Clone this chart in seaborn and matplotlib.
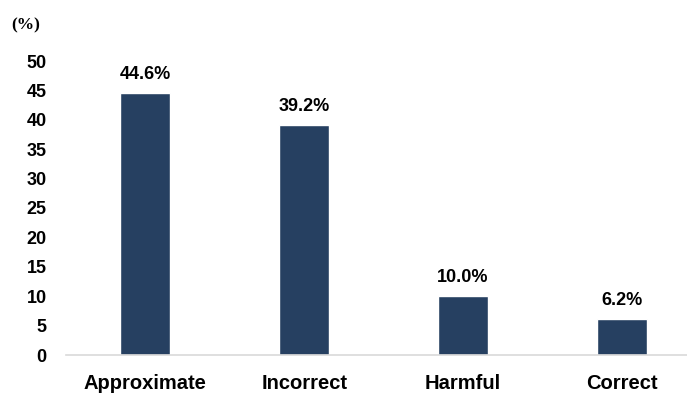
import matplotlib
matplotlib.use("Agg")
import matplotlib.pyplot as plt
import seaborn as sns
import pandas as pd

categories = ["Approximate", "Incorrect", "Harmful", "Correct"]
percentages = [44.6, 39.2, 10.0, 6.2]
y_ticks = [0, 5, 10, 15, 20, 25, 30, 35, 40, 45, 50]

sns.set_theme(style="white")
plt.rcParams["font.family"] = ["Liberation Sans", "DejaVu Sans"]
plt.rcParams["text.color"] = "black"
plt.rcParams["xtick.color"] = "black"
plt.rcParams["ytick.color"] = "black"

df = pd.DataFrame({"category": categories, "pct": percentages})

fig = plt.figure(figsize=(6.87, 3.95), dpi=100)
ax = fig.add_axes([66 / 687, (395 - 355) / 395, 1 - 66 / 687, (355 - 61) / 395])

bar_color = "#264061"
sns.barplot(data=df, x="category", y="pct", color=bar_color, width=0.315,
            saturation=1, ax=ax)

ax.set_ylim(0, 50)
ax.set_xlim(-0.5, 3.41)
ax.set_yticks(y_ticks)
ax.set_yticklabels([str(t) for t in y_ticks], fontsize=13, fontweight="bold")
ax.set_xticklabels(categories, fontsize=14.5, fontweight="bold")
ax.tick_params(axis="y", length=0, pad=14)
ax.tick_params(axis="x", length=0, pad=14)
ax.set_xlabel("")
ax.set_ylabel("")

for side in ["top", "right", "left"]:
    ax.spines[side].set_visible(False)
ax.spines["bottom"].set_color("#d9d9d9")
ax.spines["bottom"].set_linewidth(1.2)

for i, v in enumerate(percentages):
    ax.annotate(f"{v:.1f}%", (i, v), xytext=(0, 7), textcoords="offset points",
                ha="center", va="bottom", fontsize=13, fontweight="bold")

fig.text(11 / 687, 1 - 25 / 395, "(%)", fontsize=12.5, fontweight="bold",
         family="Liberation Serif", va="center", ha="left")

fig.savefig("out.png", dpi=100)
